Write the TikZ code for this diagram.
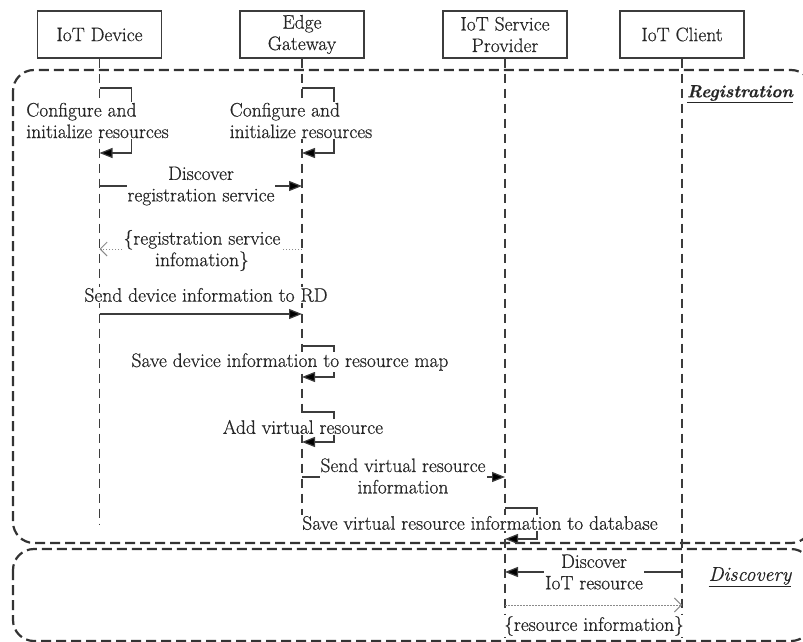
\documentclass[tikz,border=0pt]{standalone}
\usepackage{fontspec}
\setmainfont{Latin Modern Roman}[FakeBold=0.6]
\usetikzlibrary{arrows.meta}
\definecolor{linegray}{HTML}{3C3C3C}
\definecolor{framegray}{HTML}{333333}
\definecolor{replygray}{HTML}{8A8A8A}
\definecolor{textgray}{HTML}{262626}
\begin{document}
\begin{tikzpicture}[x=1pt,y=-1pt,
  font=\fontsize{19.5}{21.5}\selectfont, text=textgray,
  actor/.style={draw=linegray, line width=1.1pt, minimum width=124pt,
    minimum height=47pt, align=center, inner sep=0pt},
  lifeline/.style={draw=linegray, line width=1.3pt, dash pattern=on 9pt off 6pt},
  framebox/.style={draw=framegray, line width=2.2pt, dash pattern=on 10pt off 5pt,
    rounded corners=21pt},
  msg/.style={draw=linegray, line width=1.2pt,
    -{Triangle[length=13pt,width=10pt,fill=black]}},
  reply/.style={draw=replygray, line width=0.9pt, dash pattern=on 1.5pt off 1.5pt,
    -{Straight Barb[length=7pt,width=14pt,line width=0.9pt]}},
  txt/.style={fill=white, align=center, inner sep=1pt},
]
\useasboundingbox (0,0) rectangle (803,642);
\begin{scope}
\clip (0,0) rectangle (803,642);
% phase frames
\draw[framebox] (13,70) rectangle (812,543);
\draw[framebox] (13,549) rectangle (812,641);

% participants
\node[actor] (dev) at (99.5,34.5) {IoT Device};
\node[actor] (gw)  at (302,34.5) {Edge\\Gateway};
\node[actor] (sp)  at (505,34.5) {IoT Service\\Provider};
\node[actor] (cl)  at (682,34.5) {IoT Client};

% lifeline ends
\coordinate (devend) at (99.5,525);
\coordinate (gwend) at (302,525);
\coordinate (spend) at (505,640);
\coordinate (clend) at (682,640);
\draw[lifeline] (dev.south) -- (devend);
\draw[lifeline] (gw.south) -- (gwend);
\draw[lifeline] (sp.south) -- (spend);
\draw[lifeline] (cl.south) -- (clend);

% message heights
\coordinate (s1a) at (0,88);
\coordinate (s1b) at (0,153);
\coordinate (m1) at (0,186);
\coordinate (r1) at (0,249);
\coordinate (m2) at (0,314);
\coordinate (s3a) at (0,346);
\coordinate (s3b) at (0,377);
\coordinate (s4a) at (0,412);
\coordinate (s4b) at (0,442);
\coordinate (m3) at (0,477);
\coordinate (s5a) at (0,508);
\coordinate (s5b) at (0,539);
\coordinate (m4) at (0,572);
\coordinate (r2) at (0,605);

% registration
\draw[msg] (dev.south |- s1a) -- ++(32,0) |- (dev.south |- s1b);
\draw[msg] (gw.south |- s1a) -- ++(32,0) |- (gw.south |- s1b);
\node[txt, align=left] (t1) at (97.5,120.5) {Configure and\\initialize resources};
\node[txt, align=left] (t2) at (301,120.5) {Configure and\\initialize resources};

\draw[msg] (dev.south |- m1) -- (gw.south |- m1);
\node[txt] (t3) at (201,186) {Discover\\registration service};

\draw[reply] (gw.south |- r1) -- (dev.south |- r1);
\node[txt] (t4) at (202,250.5) {\{registration service\\infomation\}};

\node[txt] (t5) at (206,295) {Send device information to RD};
\draw[msg] (dev.south |- m2) -- (gw.south |- m2);

\draw[msg] (gw.south |- s3a) -- ++(32,0) |- (gw.south |- s3b);
\node[txt] (t6) at (290,362) {Save device information to resource map};

\draw[msg] (gw.south |- s4a) -- ++(32,0) |- (gw.south |- s4b);
\node[txt] (t7) at (303,427) {Add virtual resource};

\draw[msg] (gw.south |- m3) -- (sp.south |- m3);
\node[txt] (t8) at (403,476) {Send virtual resource\\information};

\draw[msg] (sp.south |- s5a) -- ++(32,0) |- (sp.south |- s5b);
\node[txt] (t9) at (480,523) {Save virtual resource information to database};

% discovery
\draw[msg] (cl.south |- m4) -- (sp.south |- m4);
\node[txt] (t10) at (594,572) {Discover\\IoT resource};

\draw[reply] (sp.south |- r2) -- (cl.south |- r2);
\node[txt] (t11) at (594,626) {\{resource information\}};

% phase labels
\node[font=\fontsize{17.5}{21}\selectfont\bfseries\itshape] (reg) at (740,94) {\underline{Registration}};
\node[font=\fontsize{20}{22}\selectfont\itshape] (disc) at (750,577) {\underline{Discovery}};
\end{scope}
\end{tikzpicture}
\end{document}
